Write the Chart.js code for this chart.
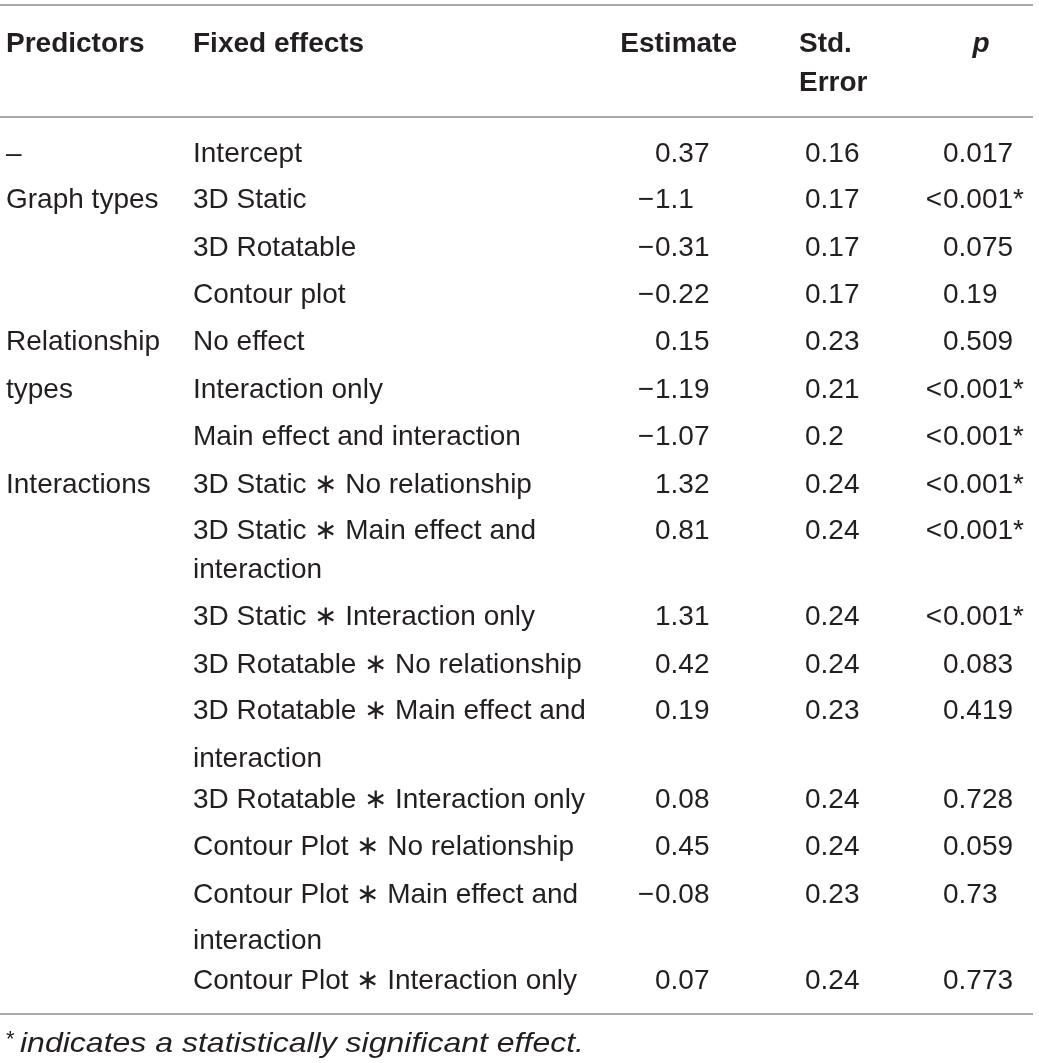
<!DOCTYPE html>
<html>
<head>
<meta charset="utf-8">
<script src="https://cdn.jsdelivr.net/npm/chart.js@4.4.1/dist/chart.umd.min.js"></script>
<style>
  html, body { margin: 0; padding: 0; background: #fff; }
  #wrap { width: 1039px; height: 1063px; }
</style>
</head>
<body>
<div id="wrap"><canvas id="tableChart"></canvas></div>
<script>
// table content
const headers = ['Predictors', 'Fixed effects', 'Estimate', 'Std.', 'Error', 'p'];
const predictors = ['–', 'Graph types', '', '', 'Relationship', 'types', '', 'Interactions',
    '', '', '', '', '', '', '', ''];
const effects = [
    ['Intercept'],
    ['3D Static'],
    ['3D Rotatable'],
    ['Contour plot'],
    ['No effect'],
    ['Interaction only'],
    ['Main effect and interaction'],
    ['3D Static \u2217 No relationship'],
    ['3D Static \u2217 Main effect and', 'interaction'],
    ['3D Static \u2217 Interaction only'],
    ['3D Rotatable \u2217 No relationship'],
    ['3D Rotatable \u2217 Main effect and', 'interaction'],
    ['3D Rotatable \u2217 Interaction only'],
    ['Contour Plot \u2217 No relationship'],
    ['Contour Plot \u2217 Main effect and', 'interaction'],
    ['Contour Plot \u2217 Interaction only']
];
const estimates = [0.37, -1.1, -0.31, -0.22, 0.15, -1.19, -1.07, 1.32, 0.81, 1.31, 0.42, 0.19, 0.08, 0.45, -0.08, 0.07];
const stdErrors = [0.16, 0.17, 0.17, 0.17, 0.23, 0.21, 0.2, 0.24, 0.24, 0.24, 0.24, 0.23, 0.24, 0.24, 0.23, 0.24];
const pValues = ['0.017', '<0.001*', '0.075', '0.19', '0.509', '<0.001*', '<0.001*', '<0.001*',
    '<0.001*', '<0.001*', '0.083', '0.419', '0.728', '0.059', '0.73', '0.773'];
const footnote = 'indicates a statistically significant effect.';

// layout (scale units = px of the reference)
const headerLines = [52, 91];
const lineBaselines = [162, 208, 256, 303, 350, 398, 445, 493, [539, 578], 625, 673, [719, 767], 808, 855, [903, 949], 989];
const rules = [5, 117, 1014];
const col = { pred: 6, eff: 193, estEnd: 737, est: 655, se: 805, seHead: 799, p: 943, pHead: 981 };

const FONT = '"Liberation Sans", Arial, sans-serif';
const INK = '#231f20';

const tablePlugin = {
    id: 'tableDraw',
    afterDraw(chart) {
        const { ctx, scales: { x, y } } = chart;
        const X = v => x.getPixelForValue(v);
        const Y = v => y.getPixelForValue(v);
        ctx.save();

        // rules
        ctx.strokeStyle = '#8c8c8c';
        ctx.lineWidth = 1.5;
        rules.forEach(r => {
            ctx.beginPath();
            ctx.moveTo(X(0), Y(r));
            ctx.lineTo(X(1033), Y(r));
            ctx.stroke();
        });

        ctx.fillStyle = INK;
        ctx.textBaseline = 'alphabetic';

        // header
        ctx.font = 'bold 28px ' + FONT;
        ctx.textAlign = 'left';
        ctx.fillText(headers[0], X(col.pred), Y(headerLines[0]));
        ctx.fillText(headers[1], X(col.eff), Y(headerLines[0]));
        ctx.textAlign = 'right';
        ctx.fillText(headers[2], X(col.estEnd), Y(headerLines[0]));
        ctx.textAlign = 'left';
        ctx.fillText(headers[3], X(col.seHead), Y(headerLines[0]));
        ctx.fillText(headers[4], X(col.seHead), Y(headerLines[1]));
        ctx.font = 'italic bold 28px ' + FONT;
        ctx.textAlign = 'center';
        ctx.fillText(headers[5], X(col.pHead), Y(headerLines[0]));

        // body
        ctx.font = '28px ' + FONT;
        effects.forEach((lines, i) => {
            const bl = [].concat(lineBaselines[i]);
            const yb = Y(bl[0]);
            ctx.textAlign = 'left';
            if (predictors[i]) ctx.fillText(predictors[i], X(col.pred), yb);
            lines.forEach((t, k) => ctx.fillText(t, X(col.eff), Y(bl[k])));

            const est = estimates[i];
            ctx.fillText(String(Math.abs(est)), X(col.est), yb);
            if (est < 0) {
                ctx.textAlign = 'right';
                ctx.fillText('\u2212', X(col.est - 1), yb);
                ctx.textAlign = 'left';
            }
            ctx.fillText(String(stdErrors[i]), X(col.se), yb);

            let p = pValues[i];
            if (p.startsWith('<')) {
                ctx.textAlign = 'right';
                ctx.fillText('<', X(col.p - 1), yb);
                ctx.textAlign = 'left';
                p = p.slice(1);
            }
            ctx.fillText(p, X(col.p), yb);
        });

        // footnote (stretched a little to match the wider original face)
        ctx.textAlign = 'left';
        ctx.font = '22px ' + FONT;
        ctx.fillText('*', X(6), Y(1046));
        ctx.font = 'italic 28px ' + FONT;
        const w = ctx.measureText(footnote).width;
        ctx.translate(X(20), Y(1052));
        ctx.scale((X(584) - X(20)) / w, 1);
        ctx.fillText(footnote, 0, 0);

        ctx.restore();
    }
};

const ctx = document.getElementById('tableChart').getContext('2d');
new Chart(ctx, {
    type: 'scatter',
    data: { datasets: [] },
    options: {
        responsive: true,
        maintainAspectRatio: false,
        animation: false,
        events: [],
        layout: { padding: 0 },
        plugins: { legend: { display: false }, tooltip: { enabled: false } },
        scales: {
            x: { type: 'linear', display: false, min: 0, max: 1039 },
            y: { type: 'linear', display: false, min: 0, max: 1063, reverse: true }
        }
    },
    plugins: [tablePlugin]
});
</script>
</body>
</html>
